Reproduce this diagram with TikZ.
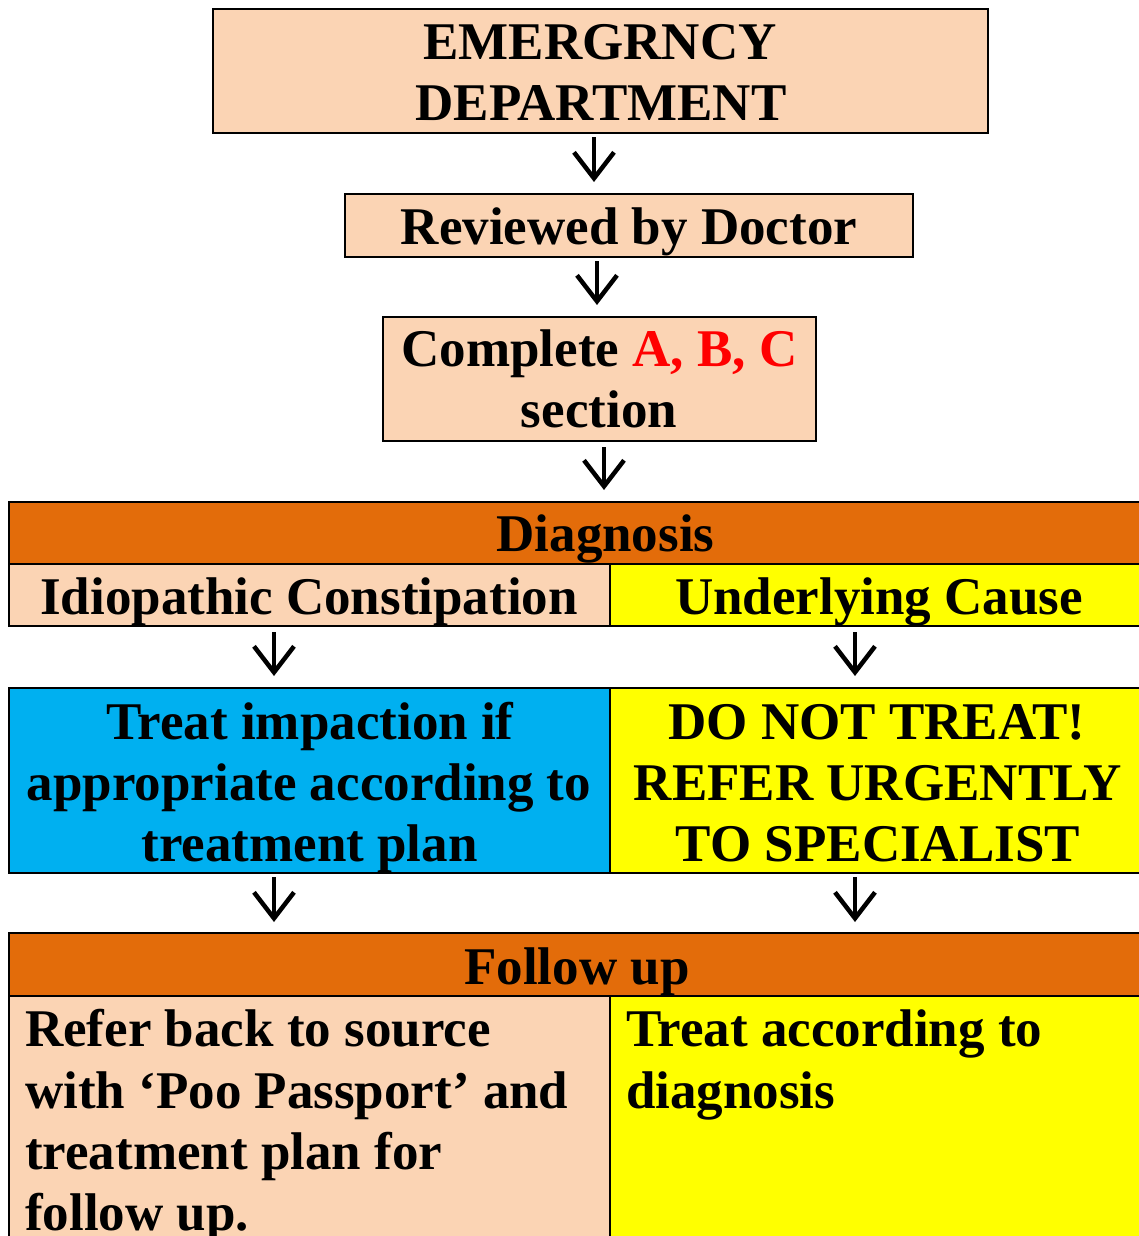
\documentclass[tikz,border=0pt]{standalone}
\usepackage{fontspec}
\setmainfont{Liberation Serif}
\usetikzlibrary{arrows.meta}
\definecolor{peach}{HTML}{FBD4B4}
\definecolor{burnt}{HTML}{E36C0A}
\definecolor{sky}{HTML}{00B0F0}
\definecolor{yel}{HTML}{FFFF00}
\definecolor{redtxt}{HTML}{FF0000}
\begin{document}
\begin{tikzpicture}[x=1pt,y=1pt,
  cell/.style={draw=black, line width=2pt, rectangle, inner sep=0pt, outer sep=0pt, anchor=north west},
  txt/.style={inner sep=0pt, anchor=base, font=\bfseries\fontsize{53}{61}\selectfont},
  txtl/.style={txt, anchor=base west},
  arr/.style={line width=4pt, -{Straight Barb[length=26pt,width=40pt,line width=4.5pt]}}
]
\useasboundingbox (0,0) rectangle (1139,-1236);
% boxes
\node[cell, fill=peach, minimum width=775pt, minimum height=124pt] (ed) at (213,-9) {};
\node[cell, fill=peach, minimum width=568pt, minimum height=63pt] (rev) at (345,-194) {};
\node[cell, fill=peach, minimum width=433pt, minimum height=124pt] (comp) at (383,-317) {};
\node[cell, fill=burnt, minimum width=1138pt, minimum height=62pt] (diag) at (8.7,-502) {};
\node[cell, fill=peach, minimum width=601.3pt, minimum height=62pt] (idio) at (8.7,-564) {};
\node[cell, fill=yel, minimum width=536pt, minimum height=62pt] (under) at (610,-564) {};
\node[cell, fill=sky, minimum width=601.3pt, minimum height=185pt] (treat) at (8.7,-688) {};
\node[cell, fill=yel, minimum width=536pt, minimum height=185pt] (dont) at (610,-688) {};
\node[cell, fill=burnt, minimum width=1138pt, minimum height=63pt] (fu) at (8.7,-933) {};
\node[cell, fill=peach, minimum width=601.3pt, minimum height=320pt] (refer) at (8.7,-996) {};
\node[cell, fill=yel, minimum width=536pt, minimum height=320pt] (tad) at (610,-996) {};
% texts
\node[txt] (edA) at (600,-60) {EMERGRNCY};
\node[txt] (edB) at (601,-121) {DEPARTMENT};
\node[txt] (revA) at (629,-244) {Reviewed by Doctor};
\node[txt] (compA) at (599.5,-366) {Complete \textcolor{redtxt}{A, B, C}};
\node[txt] (compB) at (599,-427) {section};
\node[txt] (diagA) at (605.5,-551) {Diagnosis};
\node[txt] (idioA) at (309,-614) {Idiopathic Constipation};
\node[txt] (underA) at (879,-614) {Underlying Cause};
\node[txt] (treatA) at (310,-739) {Treat impaction if};
\node[txt] (treatB) at (309,-800) {appropriate according to};
\node[txt] (treatC) at (309.5,-861) {treatment plan};
\node[txt] (dontA) at (877,-739) {DO NOT TREAT!};
\node[txt] (dontB) at (878,-800) {REFER URGENTLY};
\node[txt] (dontC) at (878,-861) {TO SPECIALIST};
\node[txt] (fuA) at (577,-984) {Follow up};
\node[txtl] (referA) at (25,-1046) {Refer back to source};
\node[txtl] (referB) at (25,-1108) {with ‘Poo Passport’ and};
\node[txtl] (referC) at (25,-1169) {treatment plan for};
\node[txtl] (referD) at (25,-1230) {follow up.};
\node[txtl] (tadA) at (626,-1046) {Treat according to};
\node[txtl] (tadB) at (626,-1108) {diagnosis};
% arrow columns
\coordinate (c1) at (594,0);
\coordinate (c2) at (597,0);
\coordinate (c3) at (604,0);
\coordinate (cl) at (274,0);
\coordinate (cr) at (855,0);
\draw[arr, shorten <=4pt, shorten >=12pt] (ed.south -| c1) -- (rev.north -| c1);
\draw[arr, shorten <=4pt, shorten >=12pt] (rev.south -| c2) -- (comp.north -| c2);
\draw[arr, shorten <=6pt, shorten >=12pt] (comp.south -| c3) -- (diag.north -| c3);
\draw[arr, shorten <=6pt, shorten >=12pt] (idio.south -| cl) -- (treat.north -| cl);
\draw[arr, shorten <=6pt, shorten >=12pt] (under.south -| cr) -- (dont.north -| cr);
\draw[arr, shorten <=4pt, shorten >=11pt] (treat.south -| cl) -- (fu.north -| cl);
\draw[arr, shorten <=4pt, shorten >=11pt] (dont.south -| cr) -- (fu.north -| cr);
\end{tikzpicture}
\end{document}
